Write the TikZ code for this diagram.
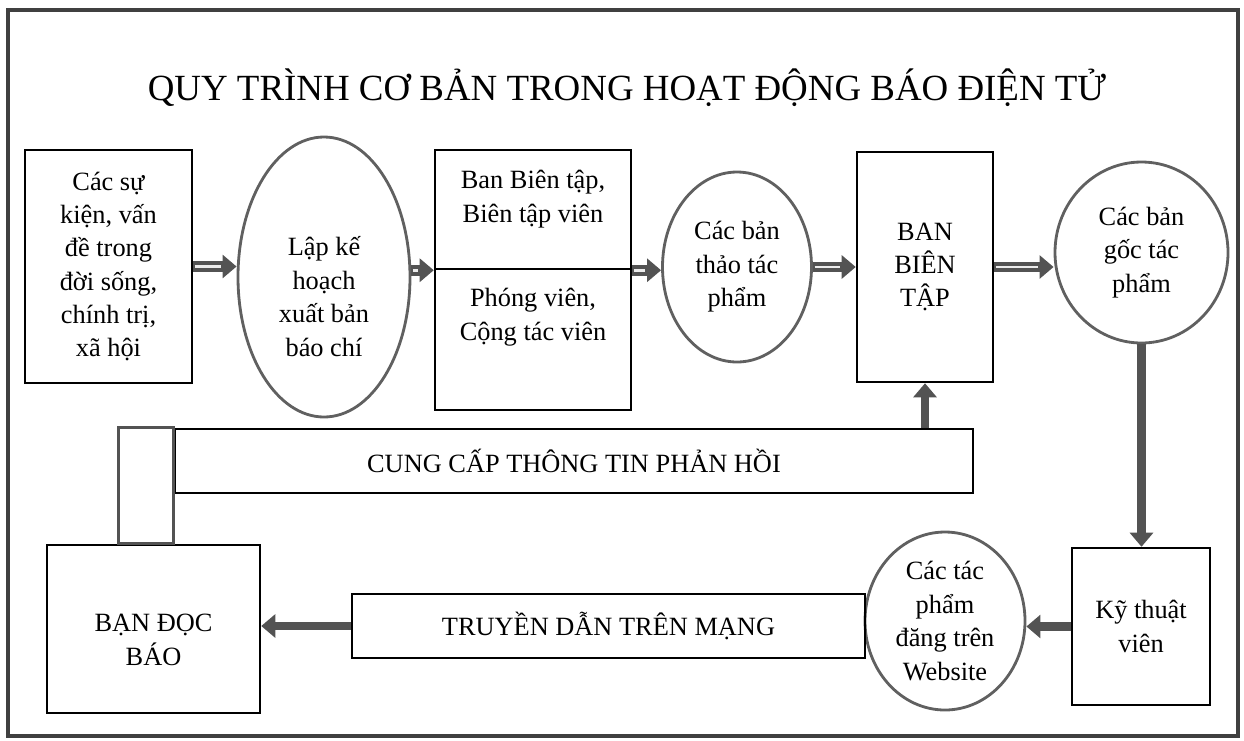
\documentclass[tikz,border=0pt]{standalone}
\usepackage{fontspec}
\setmainfont{Liberation Serif}
\usetikzlibrary{shapes.geometric,arrows.meta}

\begin{document}
\begin{tikzpicture}[
  box/.style={draw, line width=1.4pt, inner sep=0pt},
  oval/.style={ellipse, draw=gray!75!black, line width=1.6pt, inner sep=0pt},
  txt/.style={align=center, font=\fontsize{15}{19}\selectfont},
  flow/.style={draw=gray!65!black, line width=5pt, -{Triangle[length=8pt,width=13pt]}},
  hollowflow/.style={flow, line width=6pt, postaction={draw=white!85!gray, line width=1.6pt, -, shorten >=9pt, shorten <=1pt}},
]
\useasboundingbox (0,0) rectangle (24.88,-14.8);
% outer frame
\draw[gray!50!black, line width=2pt] (0.16,-0.2) rectangle (24.76,-14.72);

% title
\node[anchor=base, font=\fontsize{21}{25}\selectfont] (title) at (12.54,-2.0)
    {QUY TRÌNH CƠ BẢN TRONG HOẠT ĐỘNG BÁO ĐIỆN TỬ};

% top row
\node[box, txt, minimum width=3.34cm, minimum height=4.66cm] (ev) at (2.17,-5.33)
    {Các sự\\kiện, vấn\\đề trong\\đời sống,\\chính trị,\\xã hội};
\node[oval, minimum width=3.44cm, minimum height=5.6cm] (plan) at (6.48,-5.54) {};
\node[txt] (plan-t) at (6.48,-5.93) {Lập kế\\hoạch\\xuất bản\\báo chí};
\node[box, minimum width=3.92cm, minimum height=2.38cm] (bt) at (10.66,-4.19) {};
\node[txt] (bt-t) at (10.66,-3.98) {Ban Biên tập,\\Biên tập viên};
\node[box, minimum width=3.92cm, minimum height=2.82cm] (pv) at (10.66,-6.79) {};
\node[txt] (pv-t) at (10.66,-6.34) {Phóng viên,\\Cộng tác viên};
\node[oval, txt, minimum width=2.98cm, minimum height=3.8cm] (draft) at (14.74,-5.34)
    {Các bản\\thảo tác\\phẩm};
\node[box, txt, minimum width=2.72cm, minimum height=4.6cm] (bbt) at (18.5,-5.34)
    {BAN\\BIÊN\\TẬP};
\node[oval, txt, minimum width=3.46cm, minimum height=3.62cm] (orig) at (22.83,-5.05)
    {Các bản\\gốc tác\\phẩm};

% feedback
\node[box, txt, minimum width=15.96cm, minimum height=1.28cm] (fb) at (11.48,-9.22)
    {CUNG CẤP THÔNG TIN PHẢN HỒI};

% bottom row
\node[box, txt, minimum width=2.76cm, minimum height=3.14cm] (ktv) at (22.82,-12.53)
    {Kỹ thuật\\viên};
\node[oval, minimum width=3.2cm, minimum height=3.56cm] (web) at (18.9,-12.42) {};
\node[txt] (web-t) at (18.9,-12.42) {Các tác\\phẩm\\đăng trên\\Website};
\node[box, txt, minimum width=10.26cm, minimum height=1.28cm] (net) at (12.17,-12.52)
    {TRUYỀN DẪN TRÊN MẠNG};
\node[box, minimum width=4.26cm, minimum height=3.36cm] (reader) at (3.07,-12.58) {};
\node[txt] (reader-t) at (3.07,-12.8) {BẠN ĐỌC\\BÁO};

% arrows, top row
\draw[hollowflow] (ev.east) -- (ev.east -| plan.west);
\draw[hollowflow] (plan.east |- bt.south) -- (bt.south west);
\draw[hollowflow] (bt.south east) -- (bt.south east -| draft.west);
\draw[hollowflow] (draft.east) -- (draft.east -| bbt.west);
\draw[hollowflow] (bbt.east) -- (bbt.east -| orig.west);

% arrows, down and back
\draw[flow] (orig.south) -- (orig.south |- ktv.north);
\draw[flow] (ktv.west) -- (ktv.west -| web.east);
\draw[flow] (net.west) -- (net.west -| reader.east);
\draw[flow] (bbt.south |- fb.north) -- (bbt.south);

% link from readers to feedback
\draw[gray!65!black, line width=1.6pt] ([xshift=-1.1cm]fb.north west) rectangle (fb.west |- reader.north);

\end{tikzpicture}
\end{document}
